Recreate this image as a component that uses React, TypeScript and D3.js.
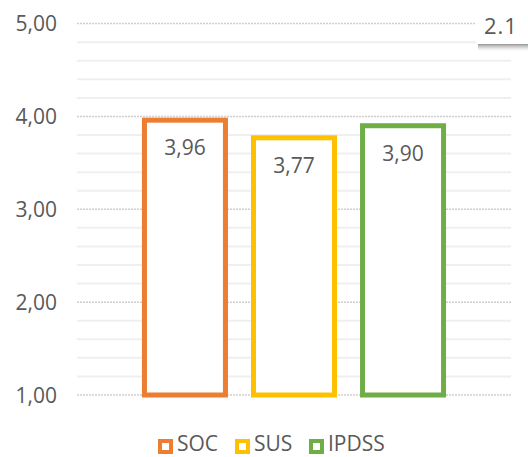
import React from "react";
import * as d3 from "d3";

const series = ["SOC", "SUS", "IPDSS"];
const values = [3.96, 3.77, 3.9];
const colors = ["#ED7D31", "#FFC000", "#70AD47"];
const majorTicks = [1, 2, 3, 4, 5];
const tickLabels = ["1,00", "2,00", "3,00", "4,00", "5,00"];
const valueLabels = ["3,96", "3,77", "3,90"];
const badge = "2.1";

const W = 528;
const H = 457;
const FONT = "'Open Sans', sans-serif";

export default function App() {
  const y = d3.scaleLinear().domain([1, 5]).range([395, 23.6]);
  const x = d3.scaleBand<string>().domain(series).range([77, 511]).paddingInner(0).paddingOuter(0.49);
  const minor = d3.range(1, 5.0001, 0.2).filter((v) => Math.abs(v - Math.round(v)) > 1e-6);
  const barW = 81;
  const strokeW = 5;

  const legendX = [158, 235, 309];

  return (
    <svg width={W} height={H} style={{ position: "absolute", left: 0, top: 0, background: "#fff" }}>
      <defs>
        <linearGradient id="shadow" x1="0" y1="0" x2="0" y2="1">
          <stop offset="0" stopColor="#6f6f6f" stopOpacity="0.9" />
          <stop offset="1" stopColor="#bfbfbf" stopOpacity="0" />
        </linearGradient>
      </defs>
      {minor.map((v, i) => (
        <line key={"m" + i} x1={77} x2={511} y1={y(v)} y2={y(v)} stroke="#efefef" strokeWidth={2} />
      ))}
      {majorTicks.map((v, i) => (
        <g key={"M" + i}>
          <line x1={77} x2={511} y1={y(v)} y2={y(v)} stroke="#cfcfcf" strokeWidth={1.5} strokeDasharray="2 1" />
          <text x={57} y={y(v) + 7.5} textAnchor="end" fontFamily={FONT} fontSize={21} fill="#595959">
            {tickLabels[i]}
          </text>
        </g>
      ))}
      {series.map((s, i) => {
        const cx = (x(s) as number) + x.bandwidth() / 2;
        return (
          <g key={s}>
            <rect
              x={cx - barW / 2}
              y={y(values[i])}
              width={barW}
              height={y(1) - y(values[i])}
              fill="#fff"
              stroke={colors[i]}
              strokeWidth={strokeW}
            />
            <text x={cx} y={y(values[i]) + 35} textAnchor="middle" fontFamily={FONT} fontSize={21} fill="#595959">
              {valueLabels[i]}
            </text>
          </g>
        );
      })}
      {/* badge */}
      <rect x={478} y={43} width={60} height={8} fill="url(#shadow)" />
      <rect x={476} y={6} width={60} height={38} fill="#fff" />
      <text x={484} y={34} fontFamily={FONT} fontSize={22} fill="#595959" letterSpacing={1}>
        {badge}
      </text>
      {/* legend */}
      {series.map((s, i) => (
        <g key={"l" + s}>
          <rect x={legendX[i] + 2} y={441} width={11} height={11} fill="#fff" stroke={colors[i]} strokeWidth={4} />
          <text x={legendX[i] + 19} y={451} fontFamily={FONT} fontSize={21} fill="#595959">
            {s}
          </text>
        </g>
      ))}
    </svg>
  );
}
